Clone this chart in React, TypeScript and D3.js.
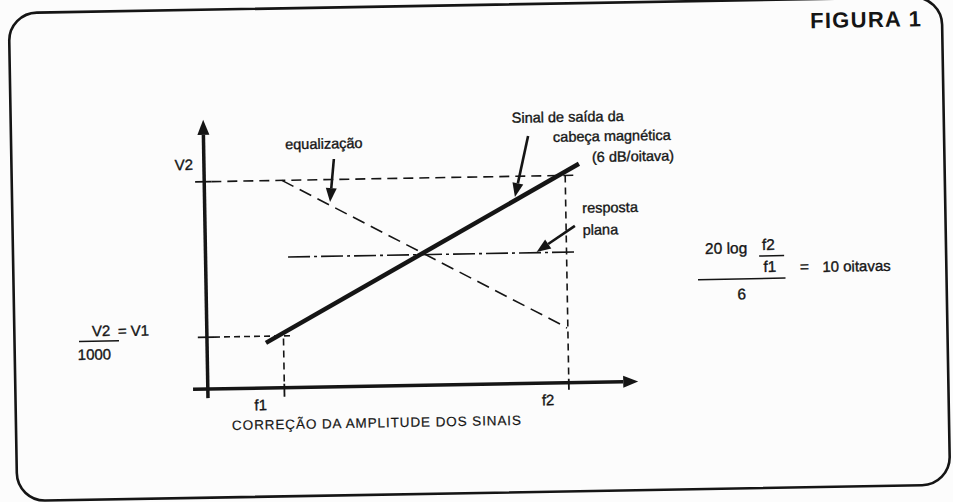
import React from 'react';
import * as d3 from 'd3';

const W = 953;
const H = 502;

// x in octaves above f1, y in dB above V1
const freqLabels = ['f1', 'f2'];
const freqOctaves = [0, 10];
const levelLabels = ['V2', 'V1'];
const levelDb = [60, 0];
const headOutput = [
  { oct: -0.62, db: -2.6 },
  { oct: 10.49, db: 64.4 },
];
const equalization = [
  { oct: 0.04, db: 60 },
  { oct: 9.73, db: 2.7 },
  { oct: 9.97, db: 1.1 },
];
const flatResponse = [
  { oct: 0.21, db: 30.4 },
  { oct: 10.37, db: 30.4 },
];
const axisOct = [-3.21, -2.69, 12.44]; // start, origin, arrow tip
const axisDb = [-23.5, -20, 83.9]; // bottom, origin, arrow tip
const pointerArrows = [
  { from: [1.88, 67.9], to: [1.72, 51.3] },
  { from: [8.72, 75.5], to: [8.22, 52.0] },
  { from: [10.31, 40.5], to: [8.95, 30.7] },
];

const INK = '#151515';
const FONT = '"Liberation Sans", Arial, Helvetica, sans-serif';
const TXT = { fontFamily: FONT, fill: INK, stroke: INK, strokeWidth: 0.35 };

function arrowHead(x1: number, y1: number, x2: number, y2: number, len: number, hw: number) {
  const dx = x2 - x1;
  const dy = y2 - y1;
  const L = Math.hypot(dx, dy);
  const ux = dx / L;
  const uy = dy / L;
  const bx = x2 - ux * len;
  const by = y2 - uy * len;
  const nx = -uy;
  const ny = ux;
  return {
    base: [bx, by],
    points: `${x2},${y2} ${bx + nx * hw},${by + ny * hw} ${bx - nx * hw},${by - ny * hw}`,
  };
}

export default function App() {
  const x = d3.scaleLinear().domain([0, 10]).range([282, 566.5]);
  const y = d3.scaleLinear().domain([0, 60]).range([332.5, 177]);
  const line = d3
    .line<{ oct: number; db: number }>()
    .x((d) => x(d.oct))
    .y((d) => y(d.db));

  const [oStart, oOrigin, oTip] = axisOct;
  const [dBottom, dOrigin, dTip] = axisDb;

  const xAxisHead = arrowHead(x(oStart), y(dOrigin), x(oTip), y(dOrigin), 15, 6);
  const yAxisHead = arrowHead(x(oOrigin), y(dBottom), x(oOrigin), y(dTip), 15, 6);

  const v2 = levelDb[0];
  const v1 = levelDb[1];

  return (
    <svg
      width={W}
      height={H}
      viewBox={`0 0 ${W} ${H}`}
      style={{ position: 'absolute', left: 0, top: 0, background: '#fcfcfc' }}
    >
      <g transform="rotate(-1, 476, 251)">
        {/* frame */}
        <rect x={13} y={5} width={933} height={488} rx={28} ry={28} fill="none" stroke={INK} strokeWidth={2.6} />

        <text x={814} y={34} fontFamily={FONT} fontWeight="bold" fontSize={22} letterSpacing={1.3} fill={INK}>
          FIGURA 1
        </text>

        {/* guide lines */}
        <line x1={x(oStart + 0.2)} x2={x(oOrigin + 0.25)} y1={y(v2)} y2={y(v2)} stroke={INK} strokeWidth={1.6} />
        <line x1={x(oOrigin + 0.25)} x2={x(10.37)} y1={y(v2)} y2={y(v2)} stroke={INK} strokeWidth={1.6} strokeDasharray="10 6" />
        <line x1={x(oStart + 0.2)} x2={x(oOrigin + 0.25)} y1={y(v1)} y2={y(v1)} stroke={INK} strokeWidth={1.6} />
        <line x1={x(oOrigin + 0.25)} x2={x(0.34)} y1={y(v1)} y2={y(v1)} stroke={INK} strokeWidth={1.6} strokeDasharray="6 4" />
        {freqOctaves.map((o, i) => (
          <g key={freqLabels[i]}>
            <line
              x1={x(o)}
              x2={x(o)}
              y1={y(i === 0 ? v1 - 1 : v2)}
              y2={y(dOrigin + 1.5)}
              stroke={INK}
              strokeWidth={1.6}
              strokeDasharray="7 5"
            />
            <line x1={x(o)} x2={x(o)} y1={y(dOrigin + 1.5)} y2={y(i === 0 ? dBottom : -22.7)} stroke={INK} strokeWidth={1.8} />
            <text
              x={x(o) + (i === 0 ? -24 : -21)}
              y={y(dOrigin) + 22}
              {...TXT}
              fontSize={15}
              textAnchor="middle"
            >
              {freqLabels[i]}
            </text>
          </g>
        ))}

        {/* equalization */}
        <path d={line(equalization) || ''} fill="none" stroke={INK} strokeWidth={1.6} strokeDasharray="13 7" />
        {/* flat response */}
        <path d={line(flatResponse) || ''} fill="none" stroke={INK} strokeWidth={1.6} strokeDasharray="22 4 3 4" />
        {/* head output 6 dB/oct */}
        <path d={line(headOutput) || ''} fill="none" stroke={INK} strokeWidth={4.5} />

        {/* axes */}
        <line x1={x(oStart)} x2={xAxisHead.base[0]} y1={y(dOrigin)} y2={y(dOrigin)} stroke={INK} strokeWidth={3.5} />
        <polygon points={xAxisHead.points} fill={INK} />
        <line x1={x(oOrigin)} x2={x(oOrigin)} y1={y(dBottom)} y2={yAxisHead.base[1]} stroke={INK} strokeWidth={3.5} />
        <polygon points={yAxisHead.points} fill={INK} />

        {/* pointer arrows */}
        {pointerArrows.map((a, i) => {
          const x1 = x(a.from[0]);
          const y1 = y(a.from[1]);
          const x2 = x(a.to[0]);
          const y2 = y(a.to[1]);
          const h = arrowHead(x1, y1, x2, y2, 14, 5.5);
          return (
            <g key={i}>
              <line x1={x1} y1={y1} x2={h.base[0]} y2={h.base[1]} stroke={INK} strokeWidth={2.6} />
              <polygon points={h.points} fill={INK} />
            </g>
          );
        })}

        {/* labels */}
        <text x={x(oOrigin) - 11} y={y(v2) - 12} {...TXT} fontSize={15} textAnchor="end">
          {levelLabels[0]}
        </text>
        <g>
          <text x={90.5} y={329.5} {...TXT} fontSize={15}>V2</text>
          <text x={116.5} y={330} {...TXT} fontSize={15}>= {levelLabels[1]}</text>
          <line x1={77.5} x2={117.5} y1={334.5} y2={334.5} stroke={INK} strokeWidth={1.5} />
          <text x={76} y={353} {...TXT} fontSize={15}>1000</text>
        </g>

        <g>
          <text x={287} y={146} {...TXT} fontSize={14.5}>equalização</text>
          <text x={514} y={123.5} {...TXT} fontSize={14.5}>Sinal de saída da</text>
          <text x={555} y={143.3} {...TXT} fontSize={14.5}>cabeça magnética</text>
          <text x={593.5} y={164} {...TXT} fontSize={14.5}>(6 dB/oitava)</text>
          <text x={583} y={214.8} {...TXT} fontSize={14.5}>resposta</text>
          <text x={583} y={236.8} {...TXT} fontSize={14.5}>plana</text>
        </g>

        <text x={229} y={425.7} {...TXT} strokeWidth={0.2} fontSize={13.5} letterSpacing={0.9}>
          CORREÇÃO DA AMPLITUDE DOS SINAIS
        </text>

        {/* formula */}
        <g>
          <text x={705} y={258} {...TXT} fontSize={15.5}>20 log</text>
          <text x={762} y={255} {...TXT} fontSize={15.5}>f2</text>
          <line x1={759} x2={784} y1={261} y2={261} stroke={INK} strokeWidth={1.5} />
          <text x={763} y={277} {...TXT} fontSize={15.5}>f1</text>
          <text x={799.5} y={277.7} {...TXT} fontSize={15.5}>=</text>
          <text x={822} y={278} {...TXT} fontSize={15}>10 oitavas</text>
          <line x1={697.5} x2={785} y1={283.5} y2={283.5} stroke={INK} strokeWidth={1.5} />
          <text x={741} y={304} {...TXT} fontSize={15.5} textAnchor="middle">6</text>
        </g>
      </g>
    </svg>
  );
}
